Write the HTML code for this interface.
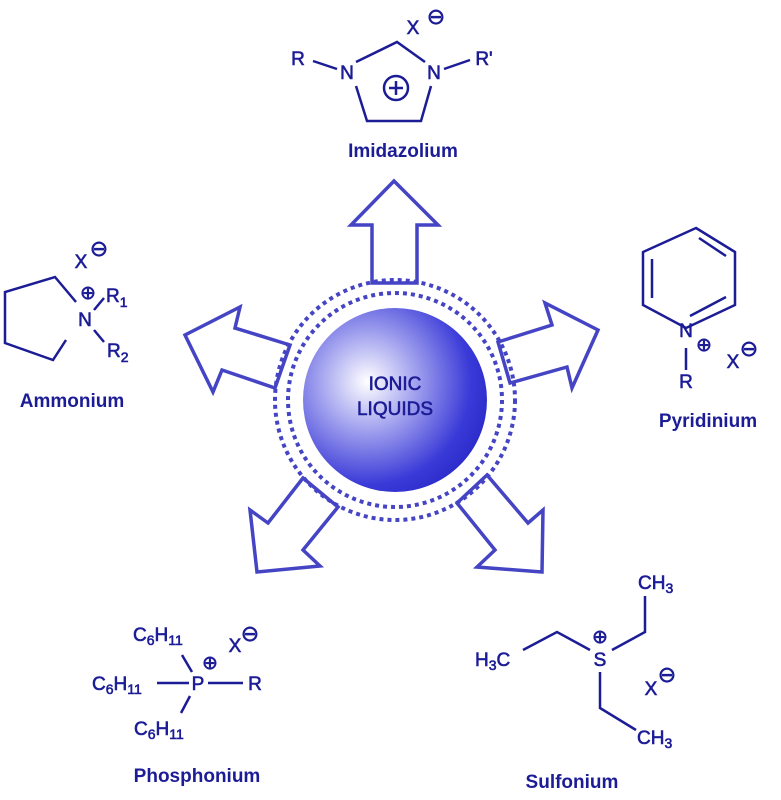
<!DOCTYPE html>
<html><head><meta charset="utf-8"><style>
html,body{margin:0;padding:0;background:#fff;}
svg{display:block;}
text{font-family:"Liberation Sans",Arial,sans-serif;fill:#1c1c96;}
.a{stroke:#1c1c96;stroke-width:0.6;}
.b{font-weight:bold;}
</style></head><body>
<svg width="781" height="800" viewBox="0 0 781 800" xmlns="http://www.w3.org/2000/svg">
<defs>
<radialGradient id="g" cx="0.35" cy="0.4" r="0.7">
<stop offset="0" stop-color="#ffffff"/>
<stop offset="0.35" stop-color="#a8a8f0"/>
<stop offset="0.8" stop-color="#3a3ad8"/>
<stop offset="1" stop-color="#2a2ac8"/>
</radialGradient>
</defs>
<g fill="none" stroke="#4444c4" stroke-width="3.5" stroke-linejoin="miter">
<polygon points="372,283 372,225 351,225 394,181 438,225 417,225 417,283"/>
<polygon points="290,345 235,328 240,307 185,335 213,392 222,370 275,388"/>
<polygon points="498,342 552,325 545,303 598,330 572,388 567,367 510,383"/>
<polygon points="303,478 268,523 250,510 257,572 320,566 303,550 338,507"/>
<polygon points="487,475 528,523 543,510 542,572 477,567 495,550 457,503"/>
</g>
<circle cx="395" cy="400" r="120" fill="none" stroke="#4444c4" stroke-width="4" stroke-dasharray="4 4"/>
<circle cx="395" cy="400" r="107" fill="none" stroke="#4444c4" stroke-width="4" stroke-dasharray="4 4"/>
<circle cx="395" cy="400" r="92" fill="url(#g)"/>
<text x="395" y="390" font-size="19" class="a" text-anchor="middle">IONIC</text>
<text x="395" y="415" font-size="19" class="a" text-anchor="middle">LIQUIDS</text>

<g stroke="#1c1c96" stroke-width="2.5" fill="none">
<line x1="313" y1="61" x2="337" y2="69"/>
<line x1="444" y1="69" x2="470" y2="60"/>
<polyline points="356,62 397,42 425,62"/>
<polyline points="356,86 367,121 421,121 431,86"/>
<circle cx="396" cy="88" r="12"/>
<line x1="389" y1="88" x2="403" y2="88"/><line x1="396" y1="81" x2="396" y2="95"/>
<polyline points="76,302 55,277 5,292 5,343 53,360 66,340"/>
<line x1="94" y1="310" x2="104" y2="298"/>
<line x1="94" y1="330" x2="104" y2="342"/>
<polygon points="696,228 735,252 735,305 686,328 643,305 643,252"/>
<line x1="652" y1="259" x2="652" y2="298"/>
<line x1="699" y1="238" x2="726" y2="256"/>
<line x1="690" y1="316" x2="726" y2="297"/>
<line x1="686" y1="348" x2="686" y2="370"/>
<line x1="182" y1="655" x2="192" y2="672"/>
<line x1="157" y1="683" x2="189" y2="683"/>
<line x1="208" y1="683" x2="243" y2="683"/>
<line x1="190" y1="696" x2="181" y2="713"/>
<polyline points="523,650 557,632 590,650"/>
<polyline points="612,650 645,632 645,596"/>
<polyline points="600,672 600,708 636,730"/>
</g>

<g class="a">
<text x="298" y="65" font-size="19" text-anchor="middle">R</text>
<text x="347" y="79" font-size="19" text-anchor="middle">N</text>
<text x="434" y="79" font-size="19" text-anchor="middle">N</text>
<text x="484" y="65" font-size="19" text-anchor="middle">R'</text>
<text x="413" y="34" font-size="19" text-anchor="middle">X</text>
<text x="436" y="24" font-size="22" text-anchor="middle">⊖</text>

<text x="81" y="268" font-size="19" text-anchor="middle">X</text>
<text x="99" y="256" font-size="22" text-anchor="middle">⊖</text>
<text x="88" y="299" font-size="19" text-anchor="middle">⊕</text>
<text x="85" y="326" font-size="19" text-anchor="middle">N</text>
<text x="106" y="302" font-size="19">R<tspan font-size="14" dy="5">1</tspan></text>
<text x="107" y="357" font-size="19">R<tspan font-size="14" dy="5">2</tspan></text>

<text x="686" y="337" font-size="19" text-anchor="middle">N</text>
<text x="704" y="351" font-size="19" text-anchor="middle">⊕</text>
<text x="686" y="388" font-size="19" text-anchor="middle">R</text>
<text x="733" y="368" font-size="19" text-anchor="middle">X</text>
<text x="749" y="356" font-size="22" text-anchor="middle">⊖</text>

<text x="133" y="641" font-size="19">C<tspan font-size="14" dy="4">6</tspan><tspan dy="-4">H</tspan><tspan font-size="14" dy="4">11</tspan></text>
<text x="92" y="690" font-size="19">C<tspan font-size="14" dy="4">6</tspan><tspan dy="-4">H</tspan><tspan font-size="14" dy="4">11</tspan></text>
<text x="134" y="735" font-size="19">C<tspan font-size="14" dy="4">6</tspan><tspan dy="-4">H</tspan><tspan font-size="14" dy="4">11</tspan></text>
<text x="198" y="690" font-size="19" text-anchor="middle">P</text>
<text x="210" y="669" font-size="19" text-anchor="middle">⊕</text>
<text x="255" y="690" font-size="19" text-anchor="middle">R</text>
<text x="235" y="652" font-size="19" text-anchor="middle">X</text>
<text x="250" y="641" font-size="22" text-anchor="middle">⊖</text>

<text x="475" y="666" font-size="19">H<tspan font-size="14" dy="4">3</tspan><tspan dy="-4">C</tspan></text>
<text x="600" y="666" font-size="19" text-anchor="middle">S</text>
<text x="600" y="643" font-size="19" text-anchor="middle">⊕</text>
<text x="638" y="589" font-size="19">CH<tspan font-size="14" dy="4">3</tspan></text>
<text x="637" y="744" font-size="19">CH<tspan font-size="14" dy="4">3</tspan></text>
<text x="651" y="695" font-size="19" text-anchor="middle">X</text>
<text x="667" y="682" font-size="22" text-anchor="middle">⊖</text>
</g>

<text x="403" y="157" font-size="19" class="b" text-anchor="middle">Imidazolium</text>
<text x="72" y="407" font-size="19" class="b" text-anchor="middle">Ammonium</text>
<text x="708" y="427" font-size="19" class="b" text-anchor="middle">Pyridinium</text>
<text x="197" y="782" font-size="19" class="b" text-anchor="middle">Phosphonium</text>
<text x="572" y="788" font-size="19" class="b" text-anchor="middle">Sulfonium</text>
</svg>
</body></html>
